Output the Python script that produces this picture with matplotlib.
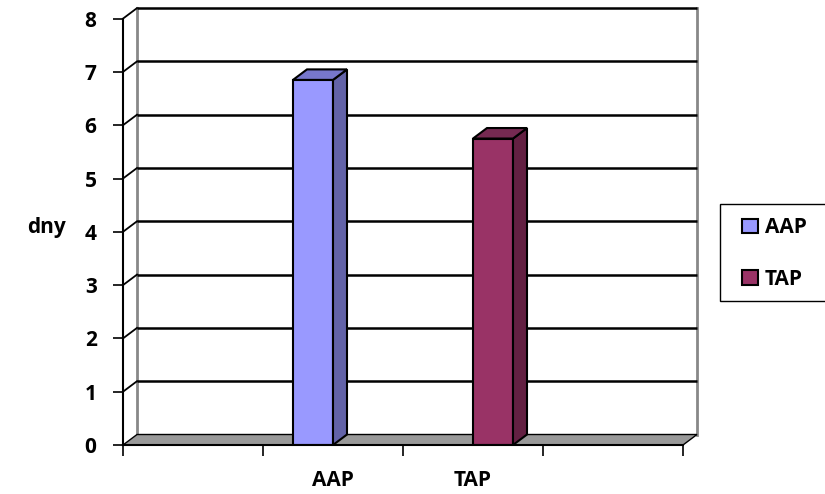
import matplotlib
matplotlib.use("Agg")
import matplotlib.pyplot as plt
from matplotlib.patches import Polygon, Patch, Rectangle
import numpy as np

# ---- data ----
categories = ["", "AAP", "TAP", ""]
series_names = ["AAP", "TAP"]
aap_values = [0, 6.85, 0, 0]
tap_values = [0, 0, 5.75, 0]
y_ticks = [0, 1, 2, 3, 4, 5, 6, 7, 8]
y_label = "dny"

# ---- style ----
front_colors = ["#9999FF", "#993366"]
side_colors = ["#6363A8", "#632042"]
top_colors = ["#7777CC", "#762A52"]

plt.rcParams['font.family'] = ['Open Sans', 'DejaVu Sans']
plt.rcParams['font.weight'] = 'bold'
FS = 15

fig = plt.figure(figsize=(8.25, 4.94), dpi=100)
ax = fig.add_axes([123/825, 1-445/494, 560/825, 426.4/494])
ncat = len(categories)
ymax = y_ticks[-1]
ax.set_xlim(0, ncat)
ax.set_ylim(0, ymax)

# depth offsets in data units (pixel offsets converted by scale)
dx = 14 / (560 / ncat)
dy = 10.5 / (426.4 / ymax)

# back wall grid lines + side diagonals
for v in y_ticks[1:]:
    ax.plot([dx, ncat + dx], [v + dy, v + dy], color="black", lw=1.8, zorder=1, clip_on=False, solid_capstyle='butt')
    ax.plot([0, dx], [v, v + dy], color="black", lw=1.3, zorder=1, clip_on=False)
# back wall edges
ax.plot([dx, dx], [dy, ymax + dy], color="#888888", lw=2, zorder=0.9, clip_on=False)
ax.plot([ncat + dx, ncat + dx], [dy, ymax + dy], color="#888888", lw=2, zorder=0.9, clip_on=False)

# floor
floor = Polygon([[0, 0], [ncat, 0], [ncat + dx, dy], [dx, dy]], closed=True,
                facecolor="#999999", edgecolor="black", lw=1, zorder=2, clip_on=False)
ax.add_patch(floor)

# bars
gap = 1.5
w = 1.0 / (2 + gap)
start = gap * w / 2
for j, vals in enumerate([aap_values, tap_values]):
    for i, h in enumerate(vals):
        if h <= 0:
            continue
        x0 = i + start + j * w
        ax.bar(x0, h, width=w, align='edge', color=front_colors[j], edgecolor="black",
               lw=1.5, zorder=3)
        side = Polygon([[x0 + w, 0], [x0 + w + dx, dy], [x0 + w + dx, h + dy], [x0 + w, h]],
                       closed=True, facecolor=side_colors[j], edgecolor="black", lw=1.5, zorder=3)
        top = Polygon([[x0, h], [x0 + w, h], [x0 + w + dx, h + dy], [x0 + dx, h + dy]],
                      closed=True, facecolor=top_colors[j], edgecolor="black", lw=1.5, zorder=3)
        ax.add_patch(side)
        ax.add_patch(top)

# axes lines
for s in ["top", "right"]:
    ax.spines[s].set_visible(False)
ax.spines["left"].set_linewidth(1.5)
ax.spines["bottom"].set_linewidth(1.5)
ax.spines["left"].set_zorder(4)
ax.spines["bottom"].set_zorder(4)

ax.set_yticks(y_ticks)
ax.set_yticklabels([str(t) for t in y_ticks], fontsize=FS, fontweight='bold')
ax.tick_params(axis='y', direction='out', length=7, width=1.2, pad=12)

ax.set_xticks(np.arange(ncat + 1))
ax.set_xticklabels([])
ax.set_xticks(np.arange(ncat) + 0.5, minor=True)
ax.set_xticklabels(categories, minor=True, fontsize=FS, fontweight='bold')
ax.tick_params(axis='x', which='major', direction='out', length=8, width=1.2)
ax.tick_params(axis='x', which='minor', length=0, pad=18)

ax.set_ylabel(y_label, rotation=0, fontsize=FS, fontweight='bold', ha='center', va='center')
ax.yaxis.set_label_coords(-0.136, 0.509)

# legend box (extends past the right edge like the reference)
fig.patches.append(Rectangle((720/825, 1 - 301/494), 120/825, 97/494,
                             transform=fig.transFigure, facecolor="white",
                             edgecolor="black", lw=1, zorder=0))
handles = [Patch(facecolor=front_colors[k], edgecolor="black", lw=1.5) for k in range(2)]
leg = fig.legend(handles, series_names, loc='center left',
                 bbox_to_anchor=(742/825, 1 - 253.5/494), bbox_transform=fig.transFigure,
                 borderaxespad=0, borderpad=0, fontsize=FS, handlelength=0.75, handleheight=0.7,
                 handletextpad=0.35, labelspacing=1.45, frameon=False)
for t in leg.get_texts():
    t.set_fontweight('bold')

fig.savefig("out.png", dpi=100)
